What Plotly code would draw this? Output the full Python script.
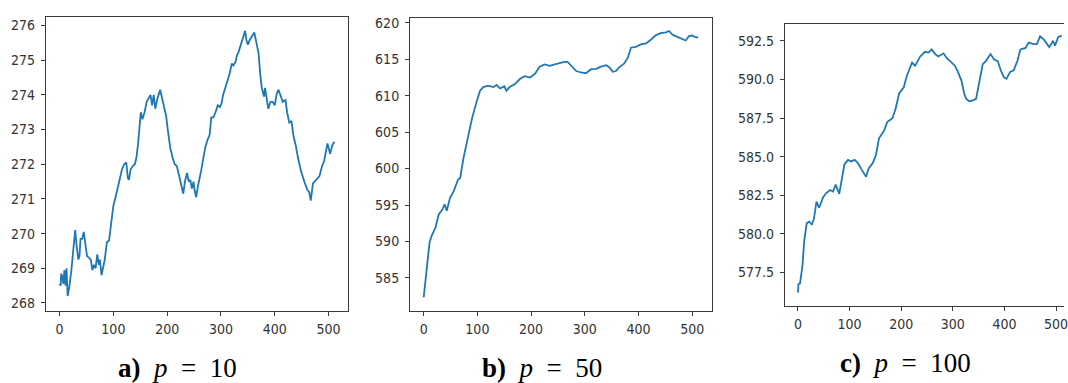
import plotly.graph_objects as go

# Sampled trajectories (iteration index, value) for the three settings of p
x_p10 = [0, 2, 3, 5, 7, 9, 11, 13, 15, 18, 22, 25, 28, 29, 32, 35, 37, 39, 42, 45,
         48, 51, 55, 58, 61, 64, 67, 70, 73, 75, 78, 80, 84, 88, 92, 96, 100, 104, 108, 112,
         116, 120, 124, 127, 129, 132, 136, 140, 143, 146, 148, 151, 154, 158, 162, 166, 169, 172, 175, 178,
         182, 187, 190, 194, 198, 202, 206, 210, 214, 218, 222, 226, 230, 233, 237, 240, 243, 246, 249, 251,
         254, 257, 260, 263, 267, 271, 275, 279, 282, 286, 290, 294, 298, 301, 304, 308, 312, 316, 320, 323,
         327, 330, 333, 336, 340, 345, 347, 350, 354, 358, 362, 366, 370, 373, 376, 380, 382, 385, 388, 392,
         396, 400, 404, 407, 411, 415, 420, 423, 427, 431, 435, 439, 443, 449, 455, 461, 464, 467, 471, 477,
         483, 488, 492, 498, 503, 507, 511]
y_p10 = [268.55, 268.5, 268.85, 268.75, 268.55, 268.95, 268.5, 269.0, 268.2, 268.45, 268.95, 269.4, 269.75, 270.1, 269.6, 269.25, 269.35, 269.85, 269.85, 270.05,
         269.7, 269.35, 269.3, 269.25, 268.95, 269.1, 269.0, 269.4, 269.1, 269.25, 268.8, 268.95, 269.25, 269.75, 269.8, 270.3, 270.8, 271.05, 271.35, 271.6,
         271.85, 272.0, 272.05, 271.6, 271.55, 271.85, 271.95, 272.0, 272.2, 272.6, 273.1, 273.5, 273.3, 273.5, 273.8, 273.9, 274.0, 273.7, 274.0, 273.6,
         273.9, 274.15, 273.95, 273.6, 273.4, 272.9, 272.45, 272.2, 272.0, 271.95, 271.7, 271.45, 271.15, 271.5, 271.75, 271.5, 271.55, 271.3, 271.5, 271.25,
         271.05, 271.35, 271.55, 271.8, 272.15, 272.5, 272.7, 272.85, 273.35, 273.35, 273.5, 273.7, 273.65, 273.75, 274.0, 274.2, 274.35, 274.6, 274.9, 274.85,
         274.95, 275.15, 275.25, 275.4, 275.6, 275.85, 275.6, 275.45, 275.6, 275.7, 275.8, 275.5, 275.2, 274.6, 274.2, 273.95, 274.2, 273.9, 273.6, 273.8,
         273.8, 273.7, 274.05, 274.15, 273.95, 273.8, 273.85, 273.5, 273.2, 273.25, 272.8, 272.55, 272.2, 271.8, 271.5, 271.25, 271.2, 270.95, 271.45, 271.55,
         271.65, 271.95, 272.1, 272.6, 272.3, 272.55, 272.65]

x_p50 = [0, 6, 11, 15, 22, 28, 35, 39, 43, 49, 56, 64, 68, 74, 82, 90, 99, 105, 111, 120,
         130, 136, 142, 150, 154, 160, 170, 179, 188, 198, 207, 216, 225, 235, 244, 253, 262, 268, 275, 284,
         293, 302, 312, 321, 330, 340, 346, 352, 358, 364, 373, 380, 386, 395, 404, 414, 423, 432, 441, 451,
         457, 463, 469, 478, 488, 494, 500, 505, 511]
y_p50 = [582.3, 586.5, 589.9, 590.8, 591.9, 593.7, 594.4, 595.1, 594.2, 596.0, 596.9, 598.5, 598.7, 601.4, 604.4, 606.9, 609.3, 610.7, 611.2, 611.4,
         611.2, 611.5, 611.0, 611.3, 610.7, 611.2, 611.6, 612.3, 612.7, 612.5, 613.0, 614.0, 614.3, 614.1, 614.3, 614.5, 614.65, 614.65, 614.1, 613.4,
         613.2, 613.1, 613.65, 613.7, 614.0, 614.2, 613.9, 613.3, 613.4, 613.9, 614.4, 615.2, 616.6, 616.7, 617.05, 617.2, 617.7, 618.3, 618.6, 618.7,
         618.9, 618.4, 618.2, 617.95, 617.6, 618.2, 618.3, 618.1, 618.0]

x_p100 = [0, 1, 4, 9, 12, 17, 22, 27, 31, 36, 41, 49, 55, 62, 68, 73, 80, 86, 90, 97,
          103, 110, 116, 122, 129, 132, 137, 145, 151, 157, 167, 173, 183, 189, 196, 205, 211, 221, 227, 237,
          246, 253, 259, 266, 272, 282, 288, 294, 304, 310, 317, 322, 326, 332, 339, 345, 352, 358, 364, 373,
          380, 387, 393, 399, 404, 411, 418, 425, 431, 441, 447, 457, 463, 469, 476, 482, 487, 494, 498, 504,
          508, 511]
y_p100 = [576.2, 576.75, 576.8, 578.0, 579.5, 580.7, 580.8, 580.6, 581.0, 582.1, 581.7, 582.4, 582.65, 582.85, 582.75, 583.2, 582.6, 583.8, 584.5, 584.8,
          584.7, 584.8, 584.6, 584.25, 583.8, 583.7, 584.25, 584.6, 585.1, 586.2, 586.7, 587.25, 587.5, 588.1, 589.1, 589.5, 590.25, 591.1, 590.9, 591.5,
          591.8, 591.75, 591.95, 591.65, 591.5, 591.7, 591.4, 591.2, 590.9, 590.5, 589.9, 589.1, 588.75, 588.6, 588.65, 588.75, 590.1, 591.0, 591.2, 591.65,
          591.3, 591.2, 590.6, 590.15, 590.05, 590.5, 590.6, 591.2, 591.95, 592.05, 592.4, 592.3, 592.3, 592.8, 592.6, 592.3, 592.1, 592.5, 592.2, 592.75,
          592.8, 592.85]

x_ticks = [0, 100, 200, 300, 400, 500]
y_ticks_p10 = [268, 269, 270, 271, 272, 273, 274, 275, 276]
y_ticks_p50 = [585, 590, 595, 600, 605, 610, 615, 620]
y_ticks_p100 = [577.5, 580.0, 582.5, 585.0, 587.5, 590.0, 592.5]

captions = ["<b>a)</b>\u2002<i>p</i>\u2002=\u200210",
            "<b>b)</b>\u2002<i>p</i>\u2002=\u200250",
            "<b>c)</b>\u2002<i>p</i>\u2002=\u2002100"]

W, H = 1068, 383
LINE = "#1f77b4"
FRAME = "#3a3a3a"
TICKFONT = dict(family="DejaVu Sans Condensed, DejaVu Sans", size=14, color="#333333")


def px_dom(a, b, total):
    return [a / total, b / total]


def ydom(top, bottom):
    return [1 - bottom / H, 1 - top / H]


fig = go.Figure()
fig.add_trace(go.Scatter(x=x_p10, y=y_p10, mode="lines", line=dict(color=LINE, width=1.8),
                         xaxis="x", yaxis="y", showlegend=False))
fig.add_trace(go.Scatter(x=x_p50, y=y_p50, mode="lines", line=dict(color=LINE, width=1.8),
                         xaxis="x2", yaxis="y2", showlegend=False))
fig.add_trace(go.Scatter(x=x_p100, y=y_p100, mode="lines", line=dict(color=LINE, width=1.8),
                         xaxis="x3", yaxis="y3", showlegend=False))

xcommon = dict(tickmode="array", tickvals=x_ticks, ticks="outside", ticklen=4, tickwidth=1,
               tickcolor=FRAME, showline=True, linecolor=FRAME, linewidth=1, mirror=True,
               showgrid=False, zeroline=False, tickfont=TICKFONT, ticklabelstandoff=2,
               ticklabeloverflow="allow")
ycommon = dict(ticks="outside", ticklen=4, tickwidth=1, tickcolor=FRAME, showline=True,
               linecolor=FRAME, linewidth=1, showgrid=False, zeroline=False,
               tickfont=TICKFONT, ticklabelstandoff=3, tickmode="array")

fig.update_layout(
    width=W, height=H,
    margin=dict(l=0, r=0, t=0, b=0),
    paper_bgcolor="white", plot_bgcolor="white",
    xaxis=dict(domain=px_dom(46, 349.5, W), range=[-25.55, 536.55], anchor="y", **xcommon),
    yaxis=dict(domain=ydom(14, 310), range=[267.78, 276.25], anchor="x", mirror=True,
               tickvals=y_ticks_p10, **ycommon),
    xaxis2=dict(domain=px_dom(411.5, 714.5, W), range=[-25.55, 536.55], anchor="y2", **xcommon),
    yaxis2=dict(domain=ydom(15, 310), range=[580.5, 620.7], anchor="x2", mirror=True,
                tickvals=y_ticks_p50, **ycommon),
    xaxis3=dict(domain=px_dom(787.7, 1068, W), range=[-25.55, 515.4], anchor="y3", **xcommon),
    yaxis3=dict(domain=ydom(20.7, 305), range=[575.36, 593.63], anchor="x3", mirror=False,
                tickvals=y_ticks_p100, tickformat=".1f", **ycommon),
)

# Panel captions under each axis
cap_centers = [(178, 368), (544, 368), (909, 363)]
for text, (cx, cy) in zip(captions, cap_centers):
    fig.add_annotation(text=text, xref="paper", yref="paper", x=cx / W, y=1 - cy / H,
                       xanchor="center", yanchor="middle", showarrow=False,
                       font=dict(family="Liberation Serif", size=27, color="black"))

fig.write_html("out.html")
